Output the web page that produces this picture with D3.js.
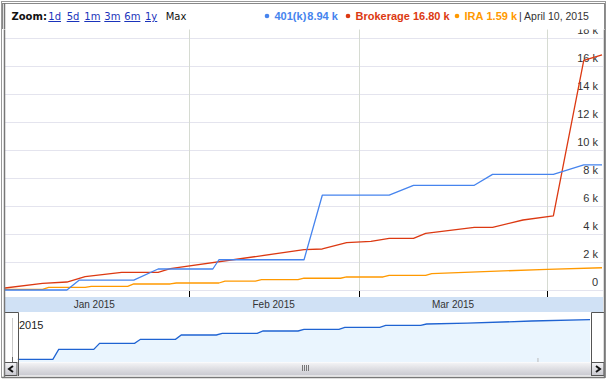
<!DOCTYPE html>
<html>
<head>
<meta charset="utf-8">
<script src="https://cdn.jsdelivr.net/npm/d3@7"></script>
<style>
  body { margin: 0; background: #fff; }
  svg { display: block; }
</style>
</head>
<body>
<svg id="chart" width="609" height="381"></svg>
<script>
// values (dates are 2015)
const k401Dates = ["01-01","01-12","01-14","01-23","01-27","02-05","02-06","02-20","02-23","03-06","03-10","03-20","03-23","04-02","04-07","04-10"];
const k401Values = [0,0,700,700,1500,1500,2160,2160,6770,6770,7480,7480,8260,8260,8940,8940];

const brokerageDates = ["01-01","01-08","01-12","01-15","01-21","01-27","01-29","02-20","02-23","02-27","03-03","03-06","03-10","03-12","03-20","03-23","03-28","04-02","04-07","04-10"];
const brokerageValues = [100,480,570,950,1260,1260,1520,2880,2930,3380,3480,3690,3690,4050,4480,4480,5000,5290,16400,16800];

const iraDates = ["01-01","01-08","01-09","01-15","01-16","01-22","01-23","01-29","01-30","02-06","02-07","02-12","02-13","02-19","02-20","02-26","02-27","03-05","03-06","03-12","03-13","04-01","04-10"];
const iraValues = [50,50,190,190,260,260,430,430,500,500,640,640,740,740,840,840,930,930,1050,1050,1170,1480,1590];

// navigator strip (thousands)
const navDates = ["01-02","01-08","01-09","01-15","01-16","01-22","01-23","01-29","01-30","02-05","02-06","02-12","02-13","02-19","02-20","02-26","02-27","03-05","03-06","03-12","03-13","03-20","03-31","04-10"];
const navValues = [1.6,1.6,7.6,7.6,11.2,11.2,13.6,13.6,16.2,16.2,17.2,17.2,18.6,18.6,19.6,19.6,20.8,20.8,22.0,22.0,22.8,23.3,24.6,25.4];

const yTicks = [0,2000,4000,6000,8000,10000,12000,14000,16000,18000];
const monthLabels = ["Jan 2015","Feb 2015","Mar 2015"];
const zoomLinks = ["1d","5d","1m","3m","6m","1y"];

const seriesNames = ["401(k)","Brokerage","IRA"];
const seriesLast = ["8.94 k","16.80 k","1.59 k"];
const colors = ["#4684ee","#dc3912","#ff9900"];
const dateLabel = "April 10, 2015";

const parse = s => new Date(Date.UTC(2015, +s.slice(0,2) - 1, +s.slice(3,5)));

const svg = d3.select("#chart");

let x = d3.scaleUtc()
    .domain([parse("01-01"), parse("04-10")])
    .range([0, 602]);
let y = d3.scaleLinear()
    .domain([0, 18000])
    .range([290, 38]);

// outer frame
svg.append("rect")
    .attr("x", 1.5).attr("y", 1.5)
    .attr("width", 604).attr("height", 376)
    .attr("fill", "#fff")
    .attr("stroke", "#999");

let defs = svg.append("defs");
defs.append("clipPath").attr("id", "plotclip")
  .append("rect").attr("x", 5).attr("y", 27).attr("width", 598).attr("height", 269);

let plot = svg.append("g").attr("clip-path", "url(#plotclip)");

// horizontal grid
plot.selectAll(".hgrid")
  .data(yTicks)
  .enter().append("line")
    .attr("x1", 5).attr("x2", 603)
    .attr("y1", d => Math.round(y(d)) + 0.5)
    .attr("y2", d => Math.round(y(d)) + 0.5)
    .attr("stroke", "#e4e4ee");

// month grid
let months = [parse("02-01"), parse("03-01"), parse("04-01")];
plot.selectAll(".vgrid")
  .data(months)
  .enter().append("line")
    .attr("x1", d => Math.round(x(d)) + 0.5)
    .attr("x2", d => Math.round(x(d)) + 0.5)
    .attr("y1", 27).attr("y2", 291)
    .attr("stroke", "#d6dbd2");

// y labels on the right, drawn above their gridline
plot.selectAll(".ylab")
  .data(yTicks)
  .enter().append("text")
    .attr("x", 598)
    .attr("y", d => y(d) - 4)
    .attr("text-anchor", "end")
    .attr("font-family", "Liberation Sans, Arial, sans-serif")
    .attr("font-size", 11)
    .attr("fill", "#333")
    .text(d => d === 0 ? "0" : (d / 1000) + " k");

// series lines
let line = d3.line()
    .x(d => x(d.date))
    .y(d => y(d.value));

let allSeries = [
  [k401Dates, k401Values],
  [brokerageDates, brokerageValues],
  [iraDates, iraValues]
];

// draw in reverse so 401(k) sits on top
[2, 1, 0].forEach(i => {
  let pts = allSeries[i][0].map((dd, j) => ({date: parse(dd), value: allSeries[i][1][j]}));
  plot.append("path")
      .datum(pts)
      .attr("fill", "none")
      .attr("stroke", colors[i])
      .attr("stroke-width", 1.3)
      .attr("stroke-linejoin", "round")
      .attr("d", line);
});

// month tick marks
svg.selectAll(".tick")
  .data(months)
  .enter().append("line")
    .attr("x1", d => Math.round(x(d)) + 0.5)
    .attr("x2", d => Math.round(x(d)) + 0.5)
    .attr("y1", 291).attr("y2", 297)
    .attr("stroke", "#000");

// axis band
svg.append("rect")
    .attr("x", 5).attr("y", 297)
    .attr("width", 598).attr("height", 15)
    .attr("fill", "#d0e1f5");

let monthStarts = [parse("01-01"), parse("02-01"), parse("03-01"), parse("04-01")];
svg.selectAll(".mlab")
  .data(monthLabels)
  .enter().append("text")
    .attr("x", (d, i) => (x(monthStarts[i]) + x(monthStarts[i + 1])) / 2)
    .attr("y", 308)
    .attr("text-anchor", "middle")
    .attr("font-family", "Liberation Sans, Arial, sans-serif")
    .attr("font-size", 10)
    .attr("fill", "#333")
    .text(d => d);

// navigator
let xn = d3.scaleUtc()
    .domain([parse("01-01"), parse("04-10")])
    .range([12, 590]);
let yn = d3.scaleLinear()
    .domain([0, 30])
    .range([362, 312]);

let navPts = navDates.map((dd, j) => ({date: parse(dd), value: navValues[j]}));

svg.append("line")
    .attr("x1", 12.5).attr("x2", 12.5)
    .attr("y1", 318).attr("y2", 362)
    .attr("stroke", "#ccc");
svg.append("line")
    .attr("x1", 12.5).attr("x2", 12.5)
    .attr("y1", 357).attr("y2", 362)
    .attr("stroke", "#666");

svg.append("path")
    .datum(navPts)
    .attr("fill", "#eaf5fe")
    .attr("d", d3.area().x(d => xn(d.date)).y0(362).y1(d => yn(d.value)));
svg.append("path")
    .datum(navPts)
    .attr("fill", "none")
    .attr("stroke", "#1f63d2")
    .attr("stroke-width", 1.3)
    .attr("d", d3.line().x(d => xn(d.date)).y(d => yn(d.value)));

svg.append("line")
    .attr("x1", xn(parse("04-01")) + 0.5).attr("x2", xn(parse("04-01")) + 0.5)
    .attr("y1", 358).attr("y2", 362)
    .attr("stroke", "#bbb");

svg.append("text")
    .attr("x", 19).attr("y", 329)
    .attr("font-family", "Liberation Sans, Arial, sans-serif")
    .attr("font-size", 11)
    .attr("fill", "#222")
    .text("2015");

// scrollbar
let grad = defs.append("linearGradient").attr("id", "sb").attr("x1", 0).attr("x2", 0).attr("y1", 0).attr("y2", 1);
grad.append("stop").attr("offset", 0).attr("stop-color", "#f4f4f6");
grad.append("stop").attr("offset", 0.4).attr("stop-color", "#e2e2e6");
grad.append("stop").attr("offset", 1).attr("stop-color", "#c9c9d0");

svg.append("rect")
    .attr("x", 18).attr("y", 362.5)
    .attr("width", 573).attr("height", 13)
    .attr("fill", "url(#sb)");
svg.selectAll(".grip")
  .data([0, 1, 2, 3])
  .enter().append("line")
    .attr("x1", d => 302.5 + d * 2).attr("x2", d => 302.5 + d * 2)
    .attr("y1", 365).attr("y2", 371)
    .attr("stroke", "#777");

// scroll buttons
[[4.5, "M13,366 L9,369 L13,372"], [591.5, "M596,366 L600,369 L596,372"]].forEach(b => {
  svg.append("rect")
      .attr("x", b[0]).attr("y", 362.5)
      .attr("width", 12.5).attr("height", 13)
      .attr("fill", "url(#sb)")
      .attr("stroke", "#555");
  svg.append("path")
      .attr("d", b[1])
      .attr("fill", "none")
      .attr("stroke", "#111")
      .attr("stroke-width", 2);
});

// handle frames
svg.append("path")
    .attr("d", "M4.5,312.5 L18.5,312.5 L18.5,376 M604.5,312.5 L591.5,312.5 L591.5,376")
    .attr("fill", "none")
    .attr("stroke", "#555");

// plot frame
svg.append("path")
    .attr("d", "M4.5,27 L4.5,377 M604.5,4 L604.5,377 M2,377.5 L605,377.5")
    .attr("fill", "none")
    .attr("stroke", "#777")
    .attr("stroke-width", 1.5);

// header (covers the top of the plot, so the 18 k label is cut)
svg.append("rect")
    .attr("x", 2).attr("y", 2)
    .attr("width", 603).attr("height", 27.5)
    .attr("fill", "#fff");
svg.append("path")
    .attr("d", "M2,3.5 L605,3.5 M2.5,3 L2.5,29 M604.5,3 L604.5,29")
    .attr("fill", "none")
    .attr("stroke", "#888");
svg.append("path")
    .attr("d", "M4.5,3 L4.5,29")
    .attr("fill", "none")
    .attr("stroke", "#777")
    .attr("stroke-width", 1.5);

let head = svg.append("g")
    .attr("font-family", "DejaVu Sans, Verdana, sans-serif")
    .attr("font-size", 10);

head.append("text")
    .attr("x", 11.5).attr("y", 20)
    .attr("font-weight", "bold")
    .attr("fill", "#111")
    .text("Zoom:");

let linkX = [48.3, 66.7, 84.3, 104.3, 124.3, 145];
head.selectAll(".zl")
  .data(zoomLinks)
  .enter().append("text")
    .attr("x", (d, i) => linkX[i])
    .attr("y", 20)
    .attr("fill", "#1a33bb")
    .attr("text-decoration", "underline")
    .text(d => d);
head.append("text")
    .attr("x", 165.7).attr("y", 20)
    .attr("fill", "#111")
    .text("Max");

// legend
let legX = [267, 348, 457];
let leg = svg.append("g")
    .attr("font-family", "Liberation Sans, Arial, sans-serif")
    .attr("font-size", 11)
    .attr("font-weight", "bold");

seriesNames.forEach((name, i) => {
  leg.append("circle")
      .attr("cx", legX[i]).attr("cy", 16)
      .attr("r", 2.3)
      .attr("fill", colors[i]);
  let t = leg.append("text")
      .attr("x", legX[i] + 7.5).attr("y", 20)
      .attr("fill", colors[i]);
  t.append("tspan").text(name);
  t.append("tspan").attr("dx", i === 0 ? 1 : 3).text(seriesLast[i]);
});

svg.append("text")
    .attr("x", 519).attr("y", 20)
    .attr("font-family", "Liberation Sans, Arial, sans-serif")
    .attr("font-size", 10.5)
    .attr("fill", "#333")
    .text("| " + dateLabel);
</script>
</body>
</html>
